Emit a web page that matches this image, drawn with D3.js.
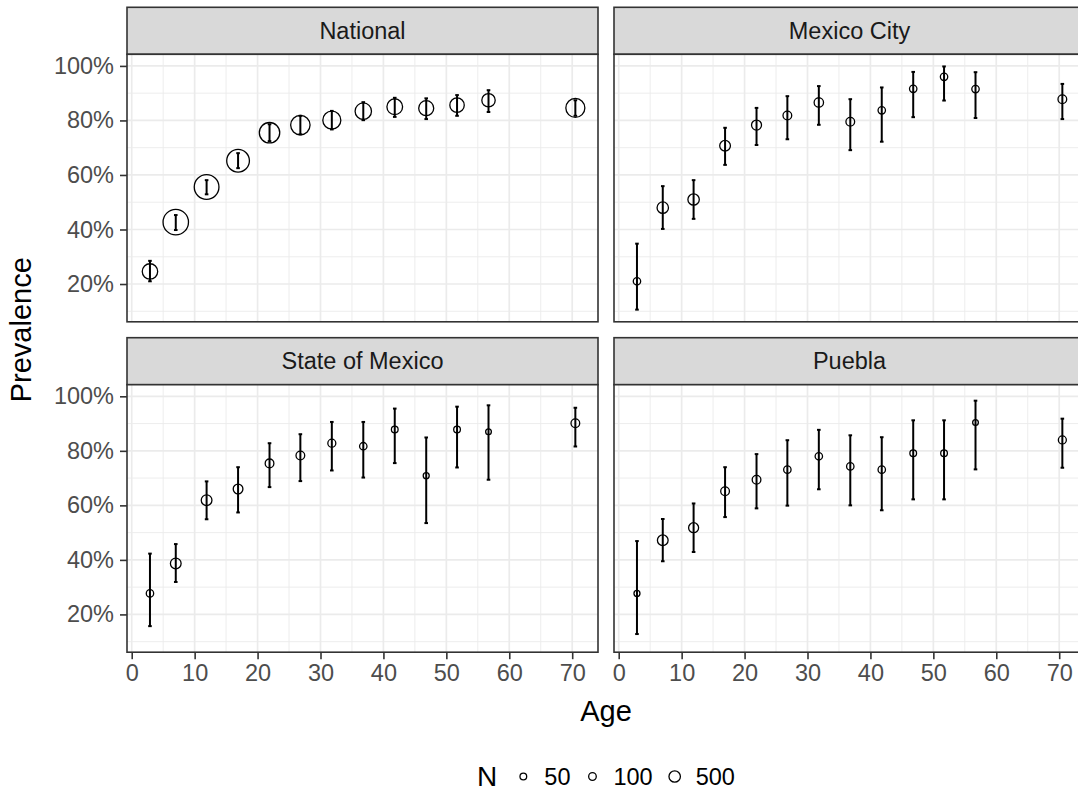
<!DOCTYPE html>
<html>
<head>
<meta charset="utf-8">
<script src="https://cdn.jsdelivr.net/npm/d3@7"></script>
<style>
  body { margin: 0; background: #fff; }
  svg { display: block; }
  text { font-family: "Liberation Sans", Arial, Helvetica, sans-serif; }
</style>
</head>
<body>
<svg id="chart" width="1078" height="791"></svg>
<script>
// Mean age of each age group
const ageMidpoints = [2.9, 7, 11.9, 16.9, 21.9, 26.8, 31.8, 36.8, 41.8, 46.8, 51.7, 56.7, 70.5];

const regionNames = ["National", "Mexico City", "State of Mexico", "Puebla"];

// Seroprevalence estimate, 95% CI bounds and sample size per age group
const prevNational  = [0.246, 0.427, 0.556, 0.652, 0.755, 0.783, 0.801, 0.834, 0.850, 0.845, 0.856, 0.874, 0.846];
const lowerNational = [0.210, 0.398, 0.529, 0.625, 0.724, 0.749, 0.767, 0.801, 0.813, 0.805, 0.817, 0.831, 0.817];
const upperNational = [0.285, 0.453, 0.581, 0.680, 0.786, 0.817, 0.835, 0.867, 0.883, 0.881, 0.893, 0.911, 0.874];
const nNational     = [1240, 4550, 4250, 3450, 2630, 2310, 1900, 1470, 1300, 1150, 1020, 820, 2190];

const prevMexicoCity  = [0.210, 0.480, 0.510, 0.707, 0.783, 0.818, 0.866, 0.795, 0.837, 0.916, 0.960, 0.915, 0.878];
const lowerMexicoCity = [0.106, 0.402, 0.439, 0.637, 0.710, 0.731, 0.784, 0.691, 0.722, 0.812, 0.873, 0.809, 0.805];
const upperMexicoCity = [0.348, 0.559, 0.581, 0.773, 0.846, 0.889, 0.926, 0.878, 0.921, 0.978, 0.998, 0.977, 0.934];
const nMexicoCity     = [87, 496, 496, 400, 315, 184, 250, 184, 87, 87, 87, 87, 184];

const prevStateMexico  = [0.277, 0.387, 0.619, 0.660, 0.754, 0.783, 0.828, 0.817, 0.878, 0.709, 0.878, 0.870, 0.901];
const lowerStateMexico = [0.157, 0.319, 0.549, 0.574, 0.667, 0.689, 0.728, 0.702, 0.755, 0.535, 0.739, 0.694, 0.816];
const upperStateMexico = [0.423, 0.458, 0.688, 0.740, 0.828, 0.861, 0.906, 0.906, 0.955, 0.849, 0.962, 0.967, 0.958];
const nStateMexico     = [87, 400, 400, 281, 184, 184, 127, 87, 50, 23, 50, 15, 184];

const prevPuebla  = [0.277, 0.472, 0.518, 0.652, 0.694, 0.731, 0.780, 0.743, 0.731, 0.791, 0.791, 0.904, 0.840];
const lowerPuebla = [0.128, 0.395, 0.429, 0.557, 0.589, 0.599, 0.659, 0.600, 0.582, 0.622, 0.622, 0.732, 0.738];
const upperPuebla = [0.469, 0.550, 0.607, 0.740, 0.788, 0.839, 0.877, 0.857, 0.850, 0.912, 0.912, 0.984, 0.918];
const nPuebla     = [23, 400, 315, 184, 184, 87, 87, 87, 87, 50, 50, 15, 127];

const xTickValues = [0, 10, 20, 30, 40, 50, 60, 70];
const xMinorValues = [5, 15, 25, 35, 45, 55, 65];
const yTickValues = [0.2, 0.4, 0.6, 0.8, 1.0];
const yMinorValues = [0.1, 0.3, 0.5, 0.7, 0.9];
const sizeBreaks = [50, 100, 500];

const series = [
  { name: regionNames[0], prev: prevNational,    lower: lowerNational,    upper: upperNational,    n: nNational },
  { name: regionNames[1], prev: prevMexicoCity,  lower: lowerMexicoCity,  upper: upperMexicoCity,  n: nMexicoCity },
  { name: regionNames[2], prev: prevStateMexico, lower: lowerStateMexico, upper: upperStateMexico, n: nStateMexico },
  { name: regionNames[3], prev: prevPuebla,      lower: lowerPuebla,      upper: upperPuebla,      n: nPuebla }
];

// ---- layout ----
const panelW = 471, panelH = 267.5, stripH = 47;
const colX = [127, 614];
const rowY = [7.3, 337.7];          // top of each strip
const tickColor = "#333333", tickText = "#4D4D4D";
const smallFont = 23.5, titleFont = 29;

const svg = d3.select("#chart");

// shared scales
const x = d3.scaleLinear().domain([-0.75, 74.1]).range([0, panelW]);
const allLo = d3.min(series, s => d3.min(s.lower));
const allHi = d3.max(series, s => d3.max(s.upper));
const pad = 0.05 * (allHi - allLo);
const y = d3.scaleLinear().domain([allLo - pad, allHi + pad]).range([panelH, 0]);

// point size: outer radius grows linearly with sqrt(N)
const radiusOuter = d3.scaleLinear().domain([Math.sqrt(50), Math.sqrt(500)]).range([4.0, 6.37]);
const pointStroke = 1.3;
const radius = n => radiusOuter(Math.sqrt(n)) - pointStroke / 2;

series.forEach((s, i) => {
  const col = i % 2, row = Math.floor(i / 2);
  const left = colX[col], stripTop = rowY[row];
  const top = stripTop + stripH;

  // strip
  svg.append("rect")
    .attr("x", left).attr("y", stripTop)
    .attr("width", panelW).attr("height", stripH)
    .attr("fill", "#D9D9D9").attr("stroke", tickColor).attr("stroke-width", 1.6);
  svg.append("text")
    .attr("x", left + panelW / 2).attr("y", stripTop + stripH / 2)
    .attr("text-anchor", "middle").attr("dominant-baseline", "central")
    .attr("font-size", smallFont).attr("fill", "#1A1A1A")
    .text(s.name);

  const g = svg.append("g").attr("transform", `translate(${left},${top})`);

  g.append("rect").attr("width", panelW).attr("height", panelH).attr("fill", "#fff");

  // grid
  const grid = g.append("g").attr("stroke", "#EBEBEB");
  grid.selectAll(".vminor").data(xMinorValues).join("line")
    .attr("x1", d => x(d)).attr("x2", d => x(d)).attr("y1", 0).attr("y2", panelH)
    .attr("stroke-width", 0.9);
  grid.selectAll(".hminor").data(yMinorValues).join("line")
    .attr("y1", d => y(d)).attr("y2", d => y(d)).attr("x1", 0).attr("x2", panelW)
    .attr("stroke-width", 0.9);
  grid.selectAll(".vmajor").data(xTickValues).join("line")
    .attr("x1", d => x(d)).attr("x2", d => x(d)).attr("y1", 0).attr("y2", panelH)
    .attr("stroke-width", 1.7);
  grid.selectAll(".hmajor").data(yTickValues).join("line")
    .attr("y1", d => y(d)).attr("y2", d => y(d)).attr("x1", 0).attr("x2", panelW)
    .attr("stroke-width", 1.7);

  const pts = ageMidpoints.map((a, k) => ({ age: a, p: s.prev[k], lo: s.lower[k], hi: s.upper[k], n: s.n[k] }));

  // confidence intervals
  const bars = g.append("g").attr("stroke", "#000").attr("stroke-width", 2);
  bars.selectAll(".ci").data(pts).join("line")
    .attr("x1", d => x(d.age)).attr("x2", d => x(d.age))
    .attr("y1", d => y(d.lo)).attr("y2", d => y(d.hi));
  bars.selectAll(".capLo").data(pts).join("line")
    .attr("x1", d => x(d.age) - 1.8).attr("x2", d => x(d.age) + 1.8)
    .attr("y1", d => y(d.lo)).attr("y2", d => y(d.lo));
  bars.selectAll(".capHi").data(pts).join("line")
    .attr("x1", d => x(d.age) - 1.8).attr("x2", d => x(d.age) + 1.8)
    .attr("y1", d => y(d.hi)).attr("y2", d => y(d.hi));

  // estimates
  g.append("g").selectAll("circle").data(pts).join("circle")
    .attr("cx", d => x(d.age)).attr("cy", d => y(d.p)).attr("r", d => radius(d.n))
    .attr("fill", "none").attr("stroke", "#000").attr("stroke-width", pointStroke);

  // border
  g.append("rect").attr("width", panelW).attr("height", panelH)
    .attr("fill", "none").attr("stroke", tickColor).attr("stroke-width", 1.6);

  // y axis on left column
  if (col === 0) {
    const ay = g.append("g").call(
      d3.axisLeft(y).tickValues(yTickValues).tickFormat(d3.format(".0%")).tickSize(7).tickPadding(6));
    ay.select(".domain").remove();
    ay.selectAll(".tick line").attr("stroke", tickColor).attr("stroke-width", 1.6);
    ay.selectAll(".tick text").attr("font-size", smallFont).attr("fill", tickText)
      .attr("font-family", "Liberation Sans, Arial, sans-serif");
  }
  // x axis on bottom row
  if (row === 1) {
    const ax = g.append("g").attr("transform", `translate(0,${panelH})`).call(
      d3.axisBottom(x).tickValues(xTickValues).tickFormat(d3.format("d")).tickSize(7).tickPadding(5));
    ax.select(".domain").remove();
    ax.selectAll(".tick line").attr("stroke", tickColor).attr("stroke-width", 1.6);
    ax.selectAll(".tick text").attr("font-size", smallFont).attr("fill", tickText)
      .attr("font-family", "Liberation Sans, Arial, sans-serif");
  }
});

// axis titles
const panelsCenterX = (colX[0] + colX[1] + panelW) / 2;
svg.append("text")
  .attr("x", panelsCenterX).attr("y", 721)
  .attr("text-anchor", "middle").attr("font-size", titleFont).attr("fill", "#000")
  .text("Age");
const panelsCenterY = (rowY[0] + rowY[1] + stripH + panelH) / 2;
svg.append("text")
  .attr("transform", `translate(31,${panelsCenterY}) rotate(-90)`)
  .attr("text-anchor", "middle").attr("font-size", titleFont).attr("fill", "#000")
  .text("Prevalence");

// size legend
const legend = svg.append("g");
const legendY = 776.5;
const title = legend.append("text").attr("y", 786).attr("font-size", 28).text("N");
const keyW = 34, labelGap = 4, itemGap = 5;
let cursor = title.node().getComputedTextLength() + 9;
sizeBreaks.forEach(b => {
  legend.append("circle")
    .attr("cx", cursor + keyW / 2).attr("cy", legendY).attr("r", radius(b))
    .attr("fill", "none").attr("stroke", "#000").attr("stroke-width", pointStroke);
  const t = legend.append("text")
    .attr("x", cursor + keyW + labelGap).attr("y", 785)
    .attr("font-size", smallFont).attr("fill", "#000").text(b);
  cursor += keyW + labelGap + t.node().getComputedTextLength() + itemGap;
});
const legendW = cursor - itemGap;
legend.attr("transform", `translate(${panelsCenterX - legendW / 2},0)`);
</script>
</body>
</html>
